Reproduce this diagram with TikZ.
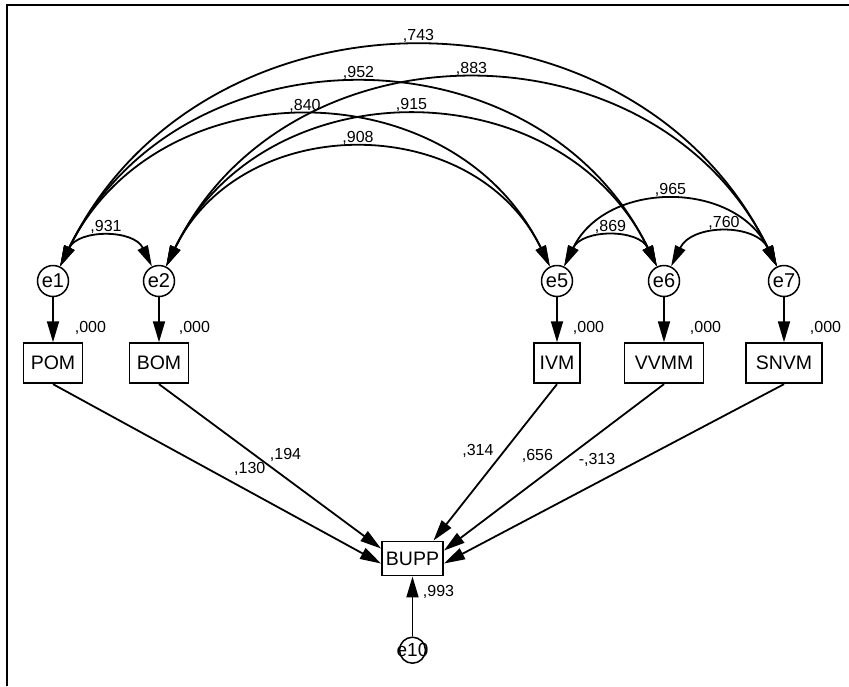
\documentclass[tikz,border=0pt]{standalone}
\usepackage{fontspec}
\setmainfont{Liberation Sans}
\usepackage{tikz}
\usetikzlibrary{arrows.meta, positioning}

\begin{document}
\begin{tikzpicture}[
        x=1pt, y=-1pt,
        errcirc/.style = {circle, draw=black, line width=1.5pt, minimum size=31pt, inner sep=0pt, font=\fontsize{20}{22}\selectfont},
        obsbox/.style = {rectangle, draw=black, line width=1.9pt, minimum height=40pt, inner xsep=4pt, font=\fontsize{19.5}{21}\selectfont},
        lbl/.style = {inner sep=0pt, font=\fontsize{16}{18}\selectfont},
        regarrow/.style = {line width=1.8pt, -{Triangle[length=21pt, width=12pt]}},
        covarc/.style = {line width=1.8pt, {Triangle[length=21pt, width=11pt]}-{Triangle[length=21pt, width=11pt]}, out=64, in=116, looseness=1.16}
    ]
    \useasboundingbox (0,0) rectangle (849,686);

    % --- KHUNG ---
    \draw[line width=2.6pt] (7,686) -- (7,5) -- (849,5);

    % --- KHAI BÁO CÁC BIẾN SAI SỐ ---
    \node[errcirc] (e1) at (53,281) {e1};
    \node[errcirc] (e2) at (159,281) {e2};
    \node[errcirc] (e5) at (557,281) {e5};
    \node[errcirc] (e6) at (664,281) {e6};
    \node[errcirc] (e7) at (784,281) {e7};

    % Các biến quan sát (ngay dưới sai số)
    \node[obsbox, minimum width=59pt, below=45pt of e1] (pom) {POM};
    \node[obsbox, minimum width=59pt, below=45pt of e2] (bom) {BOM};
    \node[obsbox, minimum width=46pt, below=45pt of e5] (ivm) {IVM};
    \node[obsbox, minimum width=79pt, below=45pt of e6] (vvmm) {VVMM};
    \node[obsbox, minimum width=76pt, below=45pt of e7] (snvm) {SNVM};

    % Biến phụ thuộc
    \node[obsbox, minimum width=61pt, minimum height=34pt] (bupp) at (412.5,558.5) {BUPP};
    \node[errcirc, minimum size=26pt, below=60pt of bupp, label={[font=\fontsize{19}{21}\selectfont]center:e10}] (e10) {};

    % --- HIỆP PHƯƠNG SAI (CUNG HAI ĐẦU) ---
    \draw[covarc] (e1) to node[lbl, above=4pt] {,931} (e2);
    \draw[covarc] (e5) to node[lbl, above=4pt] {,869} (e6);
    \draw[covarc] (e6) to node[lbl, above=4pt] {,760} (e7);
    \draw[covarc] (e5) to node[lbl, above=4pt] {,965} (e7);
    \draw[covarc] (e2) to node[lbl, above=4pt] {,908} (e5);
    \draw[covarc] (e1) to node[lbl, above=4pt] {,840} (e5);
    \draw[covarc] (e2) to node[lbl, above=4pt] {,915} (e6);
    \draw[covarc] (e1) to node[lbl, above=4pt] {,952} (e6);
    \draw[covarc] (e2) to node[lbl, above=4pt] {,883} (e7);
    \draw[covarc] (e1) to node[lbl, above=4pt] {,743} (e7);

    % --- SAI SỐ -> BIẾN QUAN SÁT ---
    \draw[regarrow] (e1) -- node[lbl, pos=.69, anchor=west, xshift=21pt] {,000} (pom);
    \draw[regarrow] (e2) -- node[lbl, pos=.69, anchor=west, xshift=19pt] {,000} (bom);
    \draw[regarrow] (e5) -- node[lbl, pos=.69, anchor=west, xshift=15pt] {,000} (ivm);
    \draw[regarrow] (e6) -- node[lbl, pos=.69, anchor=west, xshift=25pt] {,000} (vvmm);
    \draw[regarrow] (e7) -- node[lbl, pos=.69, anchor=west, xshift=25pt] {,000} (snvm);

    % --- HỒI QUY VÀO BUPP ---
    \draw[regarrow] (pom.south) -- node[lbl, pos=.6, yshift=23pt] {,130} ([yshift=-5pt]bupp.west);
    \draw[regarrow] (bom.south) -- node[lbl, pos=.57, yshift=23pt] {,194} ([yshift=10pt]bupp.west);
    \draw[regarrow] (ivm.south) -- node[lbl, pos=.43, xshift=-26pt] {,314} ([xshift=21pt]bupp.north);
    \draw[regarrow] (vvmm.south) -- node[lbl, pos=.43, xshift=-32pt] {,656} ([yshift=8pt]bupp.east);
    \draw[regarrow] (snvm.south) -- node[lbl, pos=.55, yshift=23pt] {-,313} ([yshift=-5pt]bupp.east);

    % e10 -> BUPP
    \draw[regarrow] (e10) -- node[lbl, pos=.75, xshift=26pt] {,993} (bupp);

\end{tikzpicture}
\end{document}
